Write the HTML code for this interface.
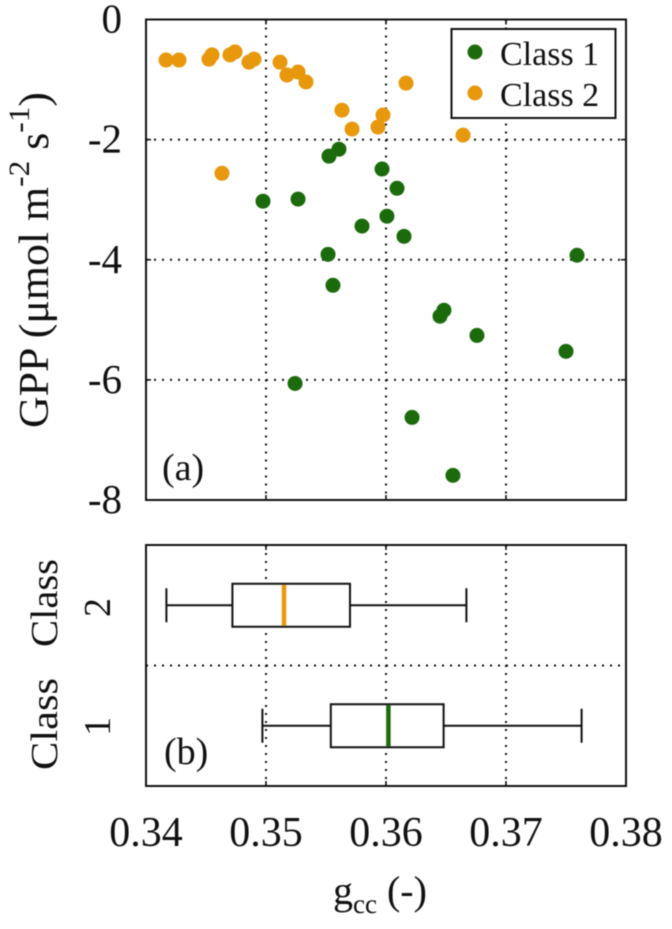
<!DOCTYPE html>
<html>
<head>
<meta charset="utf-8">
<style>
html,body{margin:0;padding:0;background:#fff;}
svg{display:block;filter:blur(0.45px);}
text{font-family:"Liberation Serif",serif;fill:#111;}
</style>
</head>
<body>
<svg id="chart" xmlns="http://www.w3.org/2000/svg" width="672" height="929" viewBox="0 0 672 929">
  <g id="panelA"></g>
  <g id="panelB"></g>
  <text transform="translate(48,428) rotate(-90)" font-size="42" textLength="336" lengthAdjust="spacingAndGlyphs">GPP (μmol m<tspan font-size="30" dy="-19">-2</tspan><tspan dy="19"> s</tspan><tspan font-size="30" dy="-19">-1</tspan><tspan dy="19">)</tspan></text>
  <text x="162" y="480" font-size="38">(a)</text>
  <text x="164" y="764" font-size="38">(b)</text>
  <text transform="translate(57,770) rotate(-90)" font-size="38" textLength="92" lengthAdjust="spacingAndGlyphs">Class</text>
  <text transform="translate(110,736) rotate(-90)" font-size="38">1</text>
  <text transform="translate(57,647) rotate(-90)" font-size="38" textLength="88" lengthAdjust="spacingAndGlyphs">Class</text>
  <text transform="translate(110,617) rotate(-90)" font-size="38">2</text>
  <text x="333" y="904" font-size="40">g<tspan font-size="27" dy="9">cc</tspan><tspan dy="-9"> (-)</tspan></text>
  <g>
    <rect x="451.5" y="29" width="164" height="89" fill="#fff" stroke="#111" stroke-width="2"/>
    <circle cx="475" cy="52" r="7.5" fill="#1b6b0c"/>
    <text x="500" y="65" font-size="34">Class 1</text>
    <circle cx="475" cy="93" r="7.5" fill="#e8980c"/>
    <text x="500" y="106" font-size="34">Class 2</text>
  </g>
</svg>
<script>
const class1X = [0.34975,0.35267,0.35517,0.35525,0.35608,0.35967,0.36092,0.36008,0.358,0.3615,0.37592,0.35558,0.3645,0.36483,0.36758,0.375,0.35242,0.36217,0.36558];
const class1Y = [-3.025,-2.99,-3.91,-2.275,-2.16,-2.49,-2.81,-3.275,-3.44,-3.61,-3.925,-4.425,-4.94,-4.84,-5.26,-5.525,-6.06,-6.625,-7.59];
const class2X = [0.34167,0.34275,0.34525,0.3455,0.347,0.34742,0.34858,0.349,0.35117,0.35175,0.35267,0.35333,0.34633,0.36167,0.35975,0.35933,0.35717,0.35633,0.36642];
const class2Y = [-0.675,-0.675,-0.66,-0.59,-0.59,-0.54,-0.71,-0.66,-0.71,-0.925,-0.875,-1.04,-2.56,-1.06,-1.59,-1.79,-1.825,-1.51,-1.925];
const xTicks = [0.34,0.35,0.36,0.37,0.38];
const xTickLabels = ["0.34","0.35","0.36","0.37","0.38"];
const yTicks = [0,-2,-4,-6,-8];
const yTickLabels = ["0","-2","-4","-6","-8"];
const boxClasses = ["class-1","class-2"];
const boxRows = [1,2];
const whiskerLow = [0.3497,0.3417];
const whiskerHigh = [0.3763,0.3667];
const quartile1 = [0.3554,0.3472];
const quartile3 = [0.3648,0.357];
const medians = [0.3602,0.3515];

const GREEN = "#1b6b0c", ORANGE = "#e8980c", INK = "#111";
const L = 146, R = 626, AT = 19.5, AB = 500, BT = 545, BB = 786;
const sx = v => L + (v - 0.34) / 0.04 * (R - L);
const sy = v => AT + (0 - v) / 8 * (AB - AT);
const rowY = r => BB - (r - 0.5) / 2 * (BB - BT);
const NS = "http://www.w3.org/2000/svg";
const panelA = document.getElementById("panelA");
const panelB = document.getElementById("panelB");

function mk(parent, tag, props) {
  const el = document.createElementNS(NS, tag);
  for (const k in props) el.setAttribute(k, props[k]);
  parent.appendChild(el);
  return el;
}
function frame(parent, y1, y2, nm) {
  const el = mk(parent, "rect", {x:L, y:y1, width:R-L, height:y2-y1, fill:"none", stroke:INK, "stroke-width":2});
  
  
}
function dotted(parent, x1, y1, x2, y2, nm) {
  const el = mk(parent, "line", {x1:x1, y1:y1, x2:x2, y2:y2, stroke:INK, "stroke-width":2, "stroke-dasharray":"2 6"});
  
  
}
function tick(parent, x1, y1, x2, y2) {
  const el = mk(parent, "line", {x1:x1, y1:y1, x2:x2, y2:y2, stroke:INK, "stroke-width":1.6});
  
  
}

xTicks.forEach((t, i) => {
  const x = sx(t);
  if (i > 0 && i < xTicks.length - 1) {
    dotted(panelA, x, AT, x, AB, 'x-gridline');
    dotted(panelB, x, BT, x, BB, 'x-gridline');
    tick(panelA, x, AT, x, AT + 5);
    tick(panelA, x, AB, x, AB - 5);
    tick(panelB, x, BT, x, BT + 5);
    tick(panelB, x, BB, x, BB - 5);
  }
  const lab = mk(panelB, "text", {x:x, y:846, "font-size":42, "text-anchor":"middle"});
  lab.textContent = xTickLabels[i];
  
  
});
yTicks.forEach((t, i) => {
  const y = sy(t);
  if (i > 0 && i < yTicks.length - 1) {
    dotted(panelA, L, y, R, y, 'y-gridline');
    tick(panelA, L, y, L + 5, y);
    tick(panelA, R, y, R - 5, y);
  }
  const lab = mk(panelA, "text", {x:122, y:y + 13, "font-size":41, "text-anchor":"end"});
  lab.textContent = yTickLabels[i];
  
  
});
dotted(panelB, L, (BT + BB) / 2, R, (BT + BB) / 2, 'row-divider');

class1X.forEach((v, i) => {
  const c = mk(panelA, "circle", {cx:sx(v), cy:sy(class1Y[i]), r:7.5, fill:GREEN});
  
  
});
class2X.forEach((v, i) => {
  const c = mk(panelA, "circle", {cx:sx(v), cy:sy(class2Y[i]), r:7.5, fill:ORANGE});
  
  
});

boxRows.forEach((r, i) => {
  const y = rowY(r), col = i === 0 ? GREEN : ORANGE;
  const stroke = {stroke:INK, "stroke-width":2};
  const wl = mk(panelB, "line", Object.assign({x1:sx(whiskerLow[i]), y1:y, x2:sx(quartile1[i]), y2:y}, stroke));
  
  
  const wh = mk(panelB, "line", Object.assign({x1:sx(quartile3[i]), y1:y, x2:sx(whiskerHigh[i]), y2:y}, stroke));
  
  
  const cl = mk(panelB, "line", Object.assign({x1:sx(whiskerLow[i]), y1:y - 17, x2:sx(whiskerLow[i]), y2:y + 17}, stroke));
  
  
  const ch = mk(panelB, "line", Object.assign({x1:sx(whiskerHigh[i]), y1:y - 17, x2:sx(whiskerHigh[i]), y2:y + 17}, stroke));
  
  
  const b = mk(panelB, "rect", Object.assign({x:sx(quartile1[i]), y:y - 21.5, width:sx(quartile3[i]) - sx(quartile1[i]), height:43, fill:"#fff"}, stroke));
  
  
  const m = mk(panelB, "line", {x1:sx(medians[i]), y1:y - 20.5, x2:sx(medians[i]), y2:y + 20.5, stroke:col, "stroke-width":4.5});
  
  
});

frame(panelA, AT, AB, 'scatter-frame');
frame(panelB, BT, BB, 'boxplot-frame');
</script>
</body>
</html>
